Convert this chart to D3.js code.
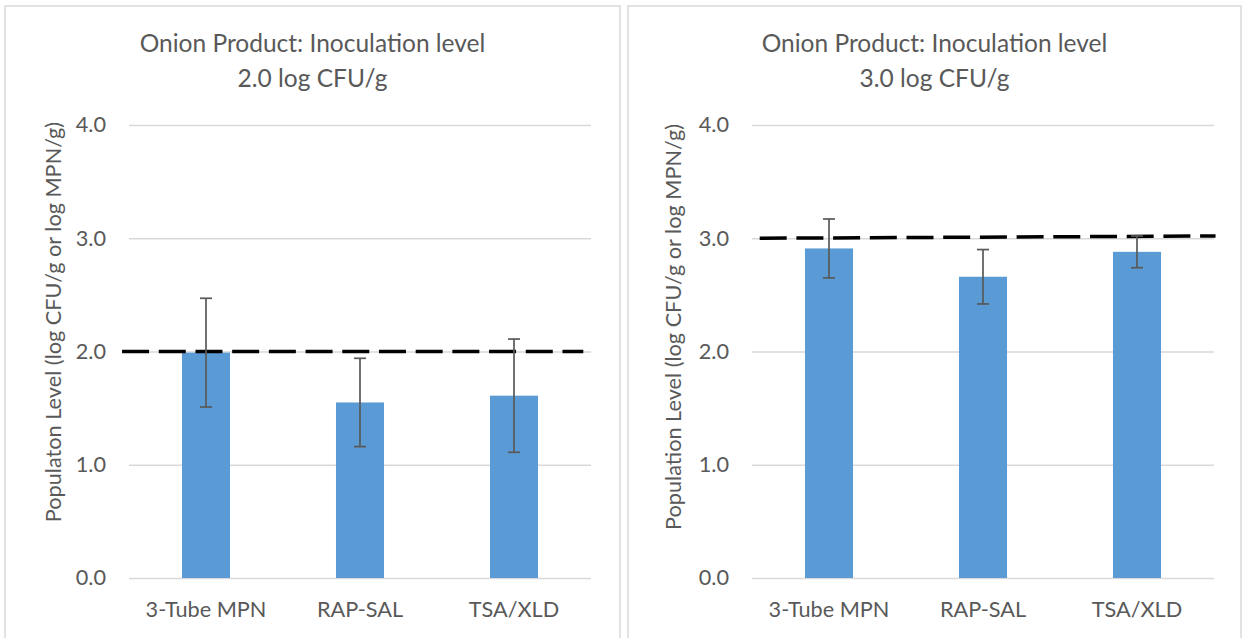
<!DOCTYPE html>
<html>
<head>
<meta charset="utf-8">
<script src="https://cdn.jsdelivr.net/npm/d3@7"></script>
<style>
  html, body { margin: 0; padding: 0; background: #ffffff; }
  svg { display: block; }
  text { font-family: Lato, "Open Sans", sans-serif; fill: #595959; }
</style>
</head>
<body>
<svg id="chart" width="1243" height="638"></svg>
<script>
// ---- data ----
const categories = ["3-Tube MPN", "RAP-SAL", "TSA/XLD"];
const yTicks = [0, 1, 2, 3, 4];

// 2.0 log CFU/g inoculation
const lowTitle = ["Onion Product: Inoculation level", "2.0 log CFU/g"];
const lowAxisTitle = "Populaton Level (log CFU/g or log MPN/g)";
const lowMeans = [1.99, 1.55, 1.61];
const lowErrors = [0.48, 0.39, 0.50];
const lowTarget = [2.0, 2.0];          // inoculation level line (start, end)
const lowTargetSpan = [-0.045, 2.95];  // in category units

// 3.0 log CFU/g inoculation
const highTitle = ["Onion Product: Inoculation level", "3.0 log CFU/g"];
const highAxisTitle = "Population Level (log CFU/g or log MPN/g)";
const highMeans = [2.91, 2.66, 2.88];
const highErrors = [0.26, 0.24, 0.14];
const highTarget = [3.0, 3.02];
const highTargetSpan = [0.05, 3.01];

// ---- layout ----
const svg = d3.select("#chart");
const panels = [
  { frame: [5, 620], plot: [129, 591], axisTitleX: 61, axisTitleY: 322,
    title: lowTitle, axisTitle: lowAxisTitle, means: lowMeans, errors: lowErrors,
    target: lowTarget, span: lowTargetSpan },
  { frame: [628, 1241], plot: [752, 1214], axisTitleX: 681, axisTitleY: 327,
    title: highTitle, axisTitle: highAxisTitle, means: highMeans, errors: highErrors,
    target: highTarget, span: highTargetSpan }
];
const plotTop = 125, plotBottom = 578;
const gridColor = "#d9d9d9";
const titleSize = 24.5, labelSize = 21.7;

panels.forEach(p => {
  const g = svg.append("g");
  const [fx0, fx1] = p.frame;
  const cx = (fx0 + fx1) / 2;

  // chart frame
  g.append("rect")
    .attr("x", fx0).attr("y", 6)
    .attr("width", fx1 - fx0).attr("height", 700)
    .attr("fill", "#ffffff")
    .attr("stroke", gridColor).attr("stroke-width", 1.5);

  // title
  g.append("text").attr("x", cx).attr("y", 52)
    .attr("text-anchor", "middle").attr("font-size", titleSize)
    .text(p.title[0]);
  g.append("text").attr("x", cx).attr("y", 87)
    .attr("text-anchor", "middle").attr("font-size", titleSize)
    .text(p.title[1]);

  const x = d3.scaleBand().domain(categories).range(p.plot)
    .paddingInner(0.688).paddingOuter(0.344);
  const xLin = d3.scaleLinear().domain([0, categories.length]).range(p.plot);
  const y = d3.scaleLinear().domain([0, 4]).range([plotBottom, plotTop]);

  // gridlines + y tick labels
  const yAxis = d3.axisLeft(y).tickValues(yTicks).tickFormat(d3.format(".1f"))
    .tickSize(-(p.plot[1] - p.plot[0])).tickPadding(23);
  const ya = g.append("g").attr("transform", `translate(${p.plot[0]},0)`).call(yAxis);
  ya.select(".domain").remove();
  ya.selectAll(".tick line").attr("stroke", gridColor).attr("stroke-width", 1.5);
  ya.selectAll(".tick text").attr("font-size", labelSize).attr("fill", "#595959")
    .attr("font-family", "Lato, 'Open Sans', sans-serif");

  // category labels
  const xAxis = d3.axisBottom(x).tickSize(0).tickPadding(24);
  const xa = g.append("g").attr("transform", `translate(0,${plotBottom})`).call(xAxis);
  xa.select(".domain").remove();
  xa.selectAll(".tick text").attr("font-size", labelSize).attr("fill", "#595959")
    .attr("font-family", "Lato, 'Open Sans', sans-serif");

  // y axis title
  g.append("text")
    .attr("transform", `translate(${p.axisTitleX},${p.axisTitleY}) rotate(-90)`)
    .attr("text-anchor", "middle").attr("font-size", labelSize)
    .text(p.axisTitle);

  const rows = categories.map((c, i) => ({ c, v: p.means[i], e: p.errors[i] }));

  // bars
  g.append("g").selectAll("rect").data(rows).join("rect")
    .attr("x", d => x(d.c)).attr("width", x.bandwidth())
    .attr("y", d => y(d.v)).attr("height", d => y(0) - y(d.v))
    .attr("fill", "#5b9bd5");

  // inoculation level reference line
  g.append("line")
    .attr("x1", xLin(p.span[0])).attr("x2", xLin(p.span[1]))
    .attr("y1", y(p.target[0])).attr("y2", y(p.target[1]))
    .attr("stroke", "#000000").attr("stroke-width", 3.5)
    .attr("stroke-dasharray", "27 9.7");

  // error bars
  const eb = g.append("g").attr("stroke", "#595959").attr("stroke-width", 1.7);
  const mid = d => x(d.c) + x.bandwidth() / 2;
  eb.selectAll("line.v").data(rows).join("line").attr("class", "v")
    .attr("x1", mid).attr("x2", mid)
    .attr("y1", d => y(d.v + d.e)).attr("y2", d => y(d.v - d.e));
  ["hi", "lo"].forEach(k => {
    eb.selectAll("line." + k).data(rows).join("line").attr("class", k)
      .attr("x1", d => mid(d) - 6).attr("x2", d => mid(d) + 6)
      .attr("y1", d => y(k === "hi" ? d.v + d.e : d.v - d.e))
      .attr("y2", d => y(k === "hi" ? d.v + d.e : d.v - d.e));
  });
});
</script>
</body>
</html>
